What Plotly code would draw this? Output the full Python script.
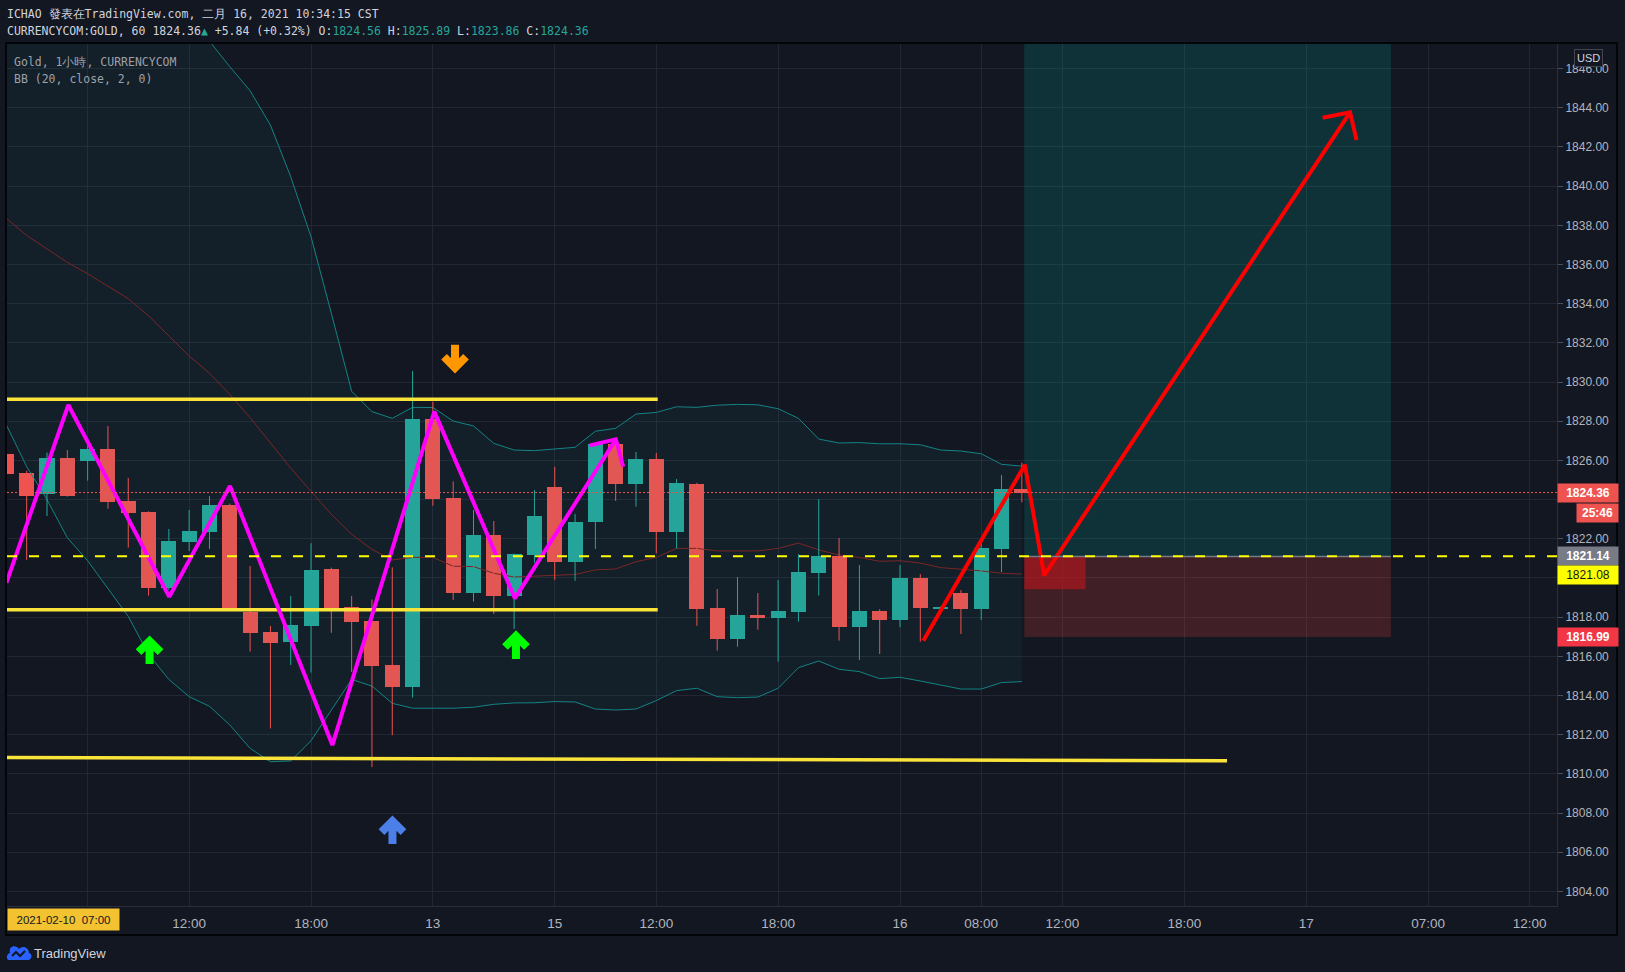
import plotly.graph_objects as go

# ---------------- data ----------------
bar_index = list(range(51))
opens = [1826.33, 1825.36, 1824.27, 1826.12, 1825.99, 1826.58, 1823.93, 1823.37, 1819.50, 1821.85,
         1822.36, 1823.72, 1818.24, 1817.22, 1816.75, 1817.55, 1820.46, 1818.52, 1817.80, 1815.56,
         1814.45, 1828.12, 1824.08, 1819.25, 1822.19, 1819.08, 1821.17, 1824.64, 1820.83, 1822.86,
         1826.84, 1824.80, 1826.07, 1822.35, 1824.80, 1818.45, 1816.88, 1818.11, 1817.97, 1818.26,
         1820.25, 1821.12, 1817.50, 1818.31, 1817.85, 1820.00, 1818.43, 1819.23, 1818.41, 1821.48,
         1824.56]
highs = [1826.55, 1825.48, 1826.40, 1826.53, 1827.08, 1827.76, 1825.10, 1823.40, 1822.50, 1823.47,
         1824.18, 1823.80, 1820.61, 1817.55, 1819.08, 1821.77, 1820.53, 1819.08, 1818.90, 1820.54,
         1830.57, 1829.00, 1824.93, 1823.47, 1822.91, 1821.25, 1824.49, 1825.67, 1823.27, 1826.85,
         1827.11, 1826.43, 1826.38, 1825.05, 1824.86, 1819.44, 1820.05, 1819.23, 1819.90, 1821.22,
         1824.03, 1822.04, 1820.66, 1818.41, 1820.66, 1820.20, 1818.55, 1819.38, 1821.90, 1825.25,
         1825.89]
lows = [1825.10, 1820.92, 1823.16, 1824.15, 1824.97, 1823.54, 1821.55, 1819.10, 1819.38, 1821.38,
        1821.48, 1818.40, 1816.24, 1812.32, 1815.56, 1815.17, 1817.20, 1815.20, 1810.35, 1811.98,
        1813.89, 1823.69, 1818.88, 1818.79, 1818.16, 1817.40, 1820.78, 1819.90, 1819.86, 1821.48,
        1823.93, 1823.64, 1821.26, 1821.51, 1817.56, 1816.29, 1816.49, 1817.36, 1815.73, 1817.77,
        1819.10, 1816.80, 1815.81, 1816.12, 1817.48, 1816.75, 1818.40, 1817.14, 1817.85, 1820.30,
        1823.86]
closes = [1825.30, 1824.20, 1826.12, 1824.20, 1826.58, 1823.89, 1823.33, 1819.50, 1821.89, 1822.40,
          1823.72, 1818.45, 1817.20, 1816.70, 1817.60, 1820.40, 1818.45, 1817.77, 1815.52, 1814.45,
          1828.12, 1824.03, 1819.25, 1822.19, 1819.08, 1821.22, 1823.16, 1820.83, 1822.86, 1826.82,
          1824.80, 1826.07, 1822.35, 1824.85, 1818.43, 1816.88, 1818.11, 1817.97, 1818.31, 1820.30,
          1821.12, 1817.50, 1818.31, 1817.85, 1820.00, 1818.47, 1818.52, 1818.41, 1821.53, 1824.54,
          1824.36]

bb_upper = [1849.0, 1849.3, 1849.6, 1850.1, 1850.2, 1850.3, 1850.5, 1850.8, 1849.9, 1848.7,
            1847.40, 1846.10, 1844.87, 1843.12, 1840.48, 1837.42, 1833.51, 1829.53, 1828.49, 1828.15,
            1828.71, 1828.70, 1828.01, 1827.76, 1826.87, 1826.53, 1826.50, 1826.58, 1826.67, 1827.49,
            1827.64, 1828.37, 1828.45, 1828.74, 1828.71, 1828.82, 1828.86, 1828.84, 1828.64, 1828.15,
            1827.09, 1826.89, 1826.91, 1826.85, 1826.85, 1826.80, 1826.53, 1826.48, 1826.34, 1825.80,
            1825.71]
bb_basis = [1838.36, 1837.48, 1836.80, 1836.11, 1835.53, 1834.88, 1834.26, 1833.38, 1832.35, 1831.33,
            1830.45, 1829.37, 1828.18, 1826.90, 1825.61, 1824.42, 1823.25, 1822.23, 1821.46, 1820.92,
            1821.05, 1821.05, 1820.60, 1820.58, 1820.24, 1820.05, 1820.10, 1820.13, 1820.18, 1820.41,
            1820.46, 1820.83, 1821.05, 1821.51, 1821.51, 1821.38, 1821.38, 1821.38, 1821.51, 1821.78,
            1821.43, 1821.17, 1821.05, 1820.85, 1820.88, 1820.76, 1820.53, 1820.46, 1820.36, 1820.24,
            1820.20]
bb_lower = [1827.81, 1825.68, 1824.00, 1822.05, 1820.88, 1819.45, 1818.04, 1816.10, 1814.82, 1813.94,
            1813.45, 1812.50, 1811.30, 1810.62, 1810.66, 1811.69, 1813.26, 1814.82, 1814.48, 1813.60,
            1813.35, 1813.35, 1813.35, 1813.40, 1813.55, 1813.62, 1813.63, 1813.69, 1813.67, 1813.31,
            1813.26, 1813.31, 1813.74, 1814.25, 1814.37, 1813.94, 1813.89, 1813.92, 1814.37, 1815.42,
            1815.76, 1815.34, 1815.22, 1814.86, 1814.93, 1814.74, 1814.52, 1814.33, 1814.33, 1814.66,
            1814.71]

y_tick_values = [1804, 1806, 1808, 1810, 1812, 1814, 1816, 1818, 1820, 1822, 1824,
                 1826, 1828, 1830, 1832, 1834, 1836, 1838, 1840, 1842, 1844, 1846]
y_tick_labels = ["1804.00", "1806.00", "1808.00", "1810.00", "1812.00", "1814.00", "1816.00",
                 "1818.00", "1820.00", "1822.00", "", "1826.00", "1828.00", "1830.00", "1832.00",
                 "1834.00", "1836.00", "1838.00", "1840.00", "1842.00", "1844.00", "1846.00"]
x_tick_values = [4, 9, 15, 21, 27, 32, 38, 44, 48, 52, 58, 64, 70, 75]
x_tick_labels = ["", "12:00", "18:00", "13", "15", "12:00", "18:00", "16", "08:00",
                 "12:00", "18:00", "17", "07:00", "12:00"]

# drawings (bar index, price)
res_top_x, res_top_y = [0, 32.07], [1829.12, 1829.12]
res_mid_x, res_mid_y = [0, 32.07], [1818.38, 1818.38]
sup_low_x, sup_low_y = [0, 60.1], [1810.83, 1810.67]
dashed_level = 1821.11
last_price = 1824.36
zigzag_x = [0.0, 3.05, 8.02, 11.01, 16.05, 21.07, 25.04, 30.01]
zigzag_y = [1819.75, 1828.83, 1819.04, 1824.70, 1811.47, 1828.49, 1818.96, 1827.08]
zigzag_head_x = [28.73, 30.01, 30.37]
zigzag_head_y = [1826.77, 1827.08, 1825.68]
forecast_x = [45.15, 50.15, 51.1, 66.16]
forecast_y = [1816.80, 1825.78, 1820.13, 1843.77]
forecast_head_x = [64.81, 66.16, 66.48]
forecast_head_y = [1843.49, 1843.77, 1842.36]
pos_x = [50.12, 68.17]
pos_entry, pos_stop, pos_target = 1821.10, 1816.99, 1850.0
pos_live_x = [50.12, 53.14]
pos_live_y = [1819.43, 1821.08]
icon_green_x, icon_green_y = [7.05, 25.09], [1816.32, 1816.58]
icon_orange_x, icon_orange_y = [22.09], [1831.19]
icon_blue_x, icon_blue_y = [19.01], [1807.13]

# ---------------- layout geometry ----------------
W_PX, H_PX = 1625, 972
M_L, M_R, M_T, M_B = 7, 68, 44, 66
PW = W_PX - M_L - M_R
PH = H_PX - M_T - M_B
Y_RANGE = [1803.255, 1847.257]
X_RANGE = [0.03, 76.35]

BG = "#131722"
UP = "#26a69a"
DN = "#ef5350"
GRID = "#232733"
TXT = "#d1d4dc"
AX = "#b2b5be"
MONO = "DejaVu Sans Mono"
SANS = "Liberation Sans"
NARROW = "Liberation Sans Narrow, Liberation Sans"


def pxx(fx):
    return (fx - M_L) / PW


def pxy(fy):
    return (H_PX - M_B - fy) / PH


fig = go.Figure()

# Bollinger bands
fig.add_trace(go.Scatter(x=bar_index, y=bb_upper, mode="lines",
                         line=dict(color="#138484", width=1), hoverinfo="skip"))
fig.add_trace(go.Scatter(x=bar_index, y=bb_lower, mode="lines", fill="tonexty",
                         fillcolor="rgba(25,135,135,0.07)",
                         line=dict(color="#138484", width=1), hoverinfo="skip"))
fig.add_trace(go.Scatter(x=bar_index, y=bb_basis, mode="lines",
                         line=dict(color="#7a2626", width=1), hoverinfo="skip"))

# candles
for color, cond in ((UP, lambda o, c: c >= o), (DN, lambda o, c: c < o)):
    wx, wy = [], []
    bx, bbase, bh = [], [], []
    for i, o, h, l, c in zip(bar_index, opens, highs, lows, closes):
        if not cond(o, c):
            continue
        wx += [i, i, None]
        wy += [l, h, None]
        bx.append(i)
        bbase.append(min(o, c))
        bh.append(max(abs(c - o), 0.06))
    fig.add_trace(go.Scatter(x=wx, y=wy, mode="lines", line=dict(color=color, width=1),
                             hoverinfo="skip"))
    fig.add_trace(go.Bar(x=bx, y=bh, base=bbase, width=0.74,
                         marker=dict(color=color, line=dict(width=0)), hoverinfo="skip"))

# drawings
yellow = "#fbe43a"
for xs, ys in ((res_top_x, res_top_y), (res_mid_x, res_mid_y), (sup_low_x, sup_low_y)):
    fig.add_trace(go.Scatter(x=xs, y=ys, mode="lines", line=dict(color=yellow, width=3.5),
                             hoverinfo="skip"))
fig.add_trace(go.Scatter(x=zigzag_x, y=zigzag_y, mode="lines",
                         line=dict(color="#ff00ff", width=4), hoverinfo="skip"))
fig.add_trace(go.Scatter(x=zigzag_head_x, y=zigzag_head_y, mode="lines",
                         line=dict(color="#ff00ff", width=4), hoverinfo="skip"))
fig.add_trace(go.Scatter(x=forecast_x, y=forecast_y, mode="lines",
                         line=dict(color="#ff0000", width=4), hoverinfo="skip"))
fig.add_trace(go.Scatter(x=forecast_head_x, y=forecast_head_y, mode="lines",
                         line=dict(color="#ff0000", width=4), hoverinfo="skip"))

shapes = []
# position tool
shapes.append(dict(type="rect", xref="x", yref="y", x0=pos_x[0], x1=pos_x[1], y0=pos_entry, y1=pos_target,
                   fillcolor="rgba(0,150,136,0.22)", line=dict(width=0), layer="between"))
shapes.append(dict(type="rect", xref="x", yref="y", x0=pos_x[0], x1=pos_x[1], y0=pos_stop, y1=pos_entry,
                   fillcolor="rgba(244,67,54,0.2)", line=dict(width=0), layer="between"))
shapes.append(dict(type="rect", xref="x", yref="y", x0=pos_live_x[0], x1=pos_live_x[1],
                   y0=pos_live_y[0], y1=pos_live_y[1],
                   fillcolor="rgba(200,20,25,0.55)", line=dict(width=0), layer="between"))
shapes.append(dict(type="line", xref="x", yref="y", x0=pos_x[0], x1=pos_x[1], y0=pos_entry, y1=pos_entry,
                   line=dict(color="#787b86", width=1.5), layer="above"))
# price lines
shapes.append(dict(type="line", xref="paper", yref="y", x0=0, x1=1, y0=last_price, y1=last_price,
                   line=dict(color=DN, width=1, dash="2px,2px"), layer="above"))
shapes.append(dict(type="line", xref="paper", yref="y", x0=0, x1=1, y0=dashed_level, y1=dashed_level,
                   line=dict(color="#ffff00", width=2, dash="10px,12px"), layer="above"))

# arrow icons (pixel sized)
UP_PATH = "M -11 -2 L 0 9 L 11 -2 M 0 9 L 0 -14"
DN_PATH = "M -11 2 L 0 -9 L 11 2 M 0 -9 L 0 14"
for xs, ys, col, path in ((icon_green_x, icon_green_y, "#00ff00", UP_PATH),
                          (icon_orange_x, icon_orange_y, "#ff9800", DN_PATH),
                          (icon_blue_x, icon_blue_y, "#4d7fe8", UP_PATH)):
    for xv, yv in zip(xs, ys):
        shapes.append(dict(type="path", xref="x", yref="y", xsizemode="pixel", ysizemode="pixel",
                           xanchor=xv, yanchor=yv, path=path,
                           line=dict(color=col, width=8), layer="above"))

# outer frame
shapes.append(dict(type="rect", xref="paper", yref="paper", x0=pxx(6), x1=pxx(1617), y0=pxy(935), y1=pxy(43),
                   line=dict(color="#000000", width=1.5), fillcolor="rgba(0,0,0,0)", layer="above"))

# TradingView logo
shapes.append(dict(type="path", xref="paper", yref="paper", xsizemode="pixel", ysizemode="pixel",
                   xanchor=pxx(19), yanchor=pxy(953),
                   path="M -10 -7 L 9 -7 C 13 -7 14 -1 10 0 C 10 6 3 8 0 4 C -3 9 -11 7 -9 0 C -13 -1 -13 -7 -10 -7 Z",
                   fillcolor="#2962ff", line=dict(width=0)))
shapes.append(dict(type="path", xref="paper", yref="paper", xsizemode="pixel", ysizemode="pixel",
                   xanchor=pxx(19), yanchor=pxy(953),
                   path="M -7 -3 L -3 1 L 1 -3 L 6 2",
                   line=dict(color=BG, width=2)))

annotations = []


def note(text, fx, fy, size=11.5, color=TXT, family=MONO, xanchor="left", **kw):
    annotations.append(dict(text=text, x=pxx(fx), y=pxy(fy), xref="paper", yref="paper",
                            xanchor=xanchor, yanchor="middle", showarrow=False,
                            font=dict(family=family, size=size, color=color), **kw))


teal = "#26a69a"
note("ICHAO 發表在TradingView.com, 二月 16, 2021 10:34:15 CST", 5, 13.5)
note("CURRENCYCOM:GOLD, 60 1824.36<span style='color:%s'>▲</span> +5.84 (+0.32%%) "
     "O:<span style='color:%s'>1824.56</span> H:<span style='color:%s'>1825.89</span> "
     "L:<span style='color:%s'>1823.86</span> C:<span style='color:%s'>1824.36</span>" % ((teal,) * 5),
     5, 31)
note("Gold, 1小時, CURRENCYCOM", 12, 62, color="#9ea1aa")
note("BB (20, close, 2, 0)", 12, 79, color="#9ea1aa")
note("TradingView", 32, 953, size=13, family=SANS)


# axis badges
def badge(text, fx, fy, w, bg, fg, bold=True):
    annotations.append(dict(text=("<b>%s</b>" % text) if bold else text,
                            x=pxx(fx), y=pxy(fy), xref="paper", yref="paper",
                            xanchor="center", yanchor="middle", showarrow=False,
                            width=w, height=14, borderpad=2, bgcolor=bg,
                            font=dict(family=SANS, size=12, color=fg)))


def fy_of(price):
    return M_T + (Y_RANGE[1] - price) / (Y_RANGE[1] - Y_RANGE[0]) * PH


badge(f"{last_price:.2f}", 1588, fy_of(last_price), 56, "#ef5350", "#ffffff")
badge("25:46", 1597, fy_of(last_price) + 20, 37, "#ef5350", "#ffffff")
badge("1821.14", 1588, fy_of(dashed_level), 56, "#787b86", "#ffffff")
badge("1821.08", 1588, fy_of(dashed_level) + 19, 56, "#ffff00", "#131722", bold=False)
badge(f"{pos_stop:.2f}", 1588, fy_of(pos_stop), 56, "#f23645", "#ffffff")
annotations.append(dict(text="USD", x=pxx(1588), y=pxy(58), xref="paper", yref="paper",
                        xanchor="center", yanchor="middle", showarrow=False,
                        bgcolor=BG, bordercolor="#434651", borderwidth=1, borderpad=2,
                        font=dict(family=SANS, size=11, color=TXT)))
annotations.append(dict(text="2021-02-10  07:00", x=pxx(63.5), y=pxy(919.5), xref="paper", yref="paper",
                        xanchor="center", yanchor="middle", showarrow=False,
                        width=107, height=17, borderpad=2, bgcolor="#f2c230",
                        font=dict(family=SANS, size=11.5, color="#131722")))

fig.update_layout(
    width=W_PX, height=H_PX,
    margin=dict(l=M_L, r=M_R, t=M_T, b=M_B, pad=0),
    paper_bgcolor=BG, plot_bgcolor=BG,
    showlegend=False, barmode="overlay", bargap=0,
    shapes=shapes, annotations=annotations,
    xaxis=dict(range=X_RANGE, tickmode="array", tickvals=x_tick_values, ticktext=x_tick_labels,
               showgrid=True, gridcolor=GRID, gridwidth=1, zeroline=False,
               showline=True, linecolor="#2a2e39", linewidth=1,
               ticks="outside", ticklen=5, tickcolor=BG,
               tickfont=dict(family=NARROW, size=13.5, color=AX), fixedrange=True),
    yaxis=dict(range=Y_RANGE, side="right", tickmode="array", tickvals=y_tick_values,
               ticktext=y_tick_labels, showgrid=True, gridcolor=GRID, gridwidth=1, zeroline=False,
               showline=True, linecolor="#2a2e39", linewidth=1,
               ticks="outside", ticklen=5, tickcolor="#4a4f5c",
               tickfont=dict(family=SANS, size=12, color=AX), fixedrange=True),
)

fig.write_html("out.html")
